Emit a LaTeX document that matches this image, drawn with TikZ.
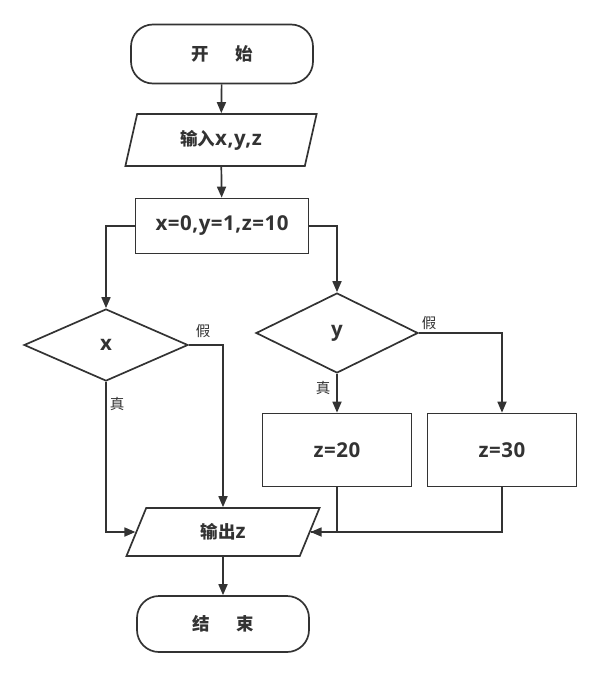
\documentclass[tikz,border=0pt]{standalone}
\usepackage{fontspec}
\setmainfont{Open Sans}[LetterSpace=2.5]
\newfontfamily\cjk{Noto Sans CJK SC}
\newcommand{\zh}[1]{{\fontsize{17.5}{20}\cjk\bfseries #1}}
\usetikzlibrary{shapes.geometric,shapes.misc,arrows.meta}
\definecolor{ln}{HTML}{333333}
\tikzset{
  base/.style={draw=ln, line width=1.7pt, text=ln, font=\fontsize{20.5}{22}\selectfont\bfseries, inner sep=0pt},
  term/.style={base, rectangle, rounded corners=22pt, minimum width=182pt, minimum height=59pt},
  io/.style={base, trapezium, trapezium left angle=74, trapezium right angle=106, trapezium stretches=true, minimum width=192pt, minimum height=52pt},
  proc/.style={base, rectangle, minimum width=173pt, minimum height=55pt},
  conn/.style={draw=ln, line width=1.7pt, -{Triangle[length=11pt,width=9pt]}},
  plain/.style={draw=ln, line width=1.7pt},
  lbl/.style={text=ln, font=\fontsize{14.5}{16}\selectfont\cjk, inner sep=0pt}
}
\begin{document}
\begin{tikzpicture}[x=1pt,y=-1pt]
\useasboundingbox (0,0) rectangle (602,677);
\node[term] (start) at (222,54) {\zh{开\hspace{1.5em}始}};
\node[io] (in) at (221,140) {\zh{输入}x,y,z};
\node[proc] (init) at (222,226) {x=0,y=1,z=10};
\node[base, diamond, minimum width=164pt, minimum height=72pt, shape aspect=2.28] (dx) at (106,345) {x};
\node[base, diamond, minimum width=162pt, minimum height=80pt, shape aspect=2.03] (dy) at (337,333) {y};
\node[proc, minimum width=149pt, minimum height=73pt] (z20) at (337,450) {z=20};
\node[proc, minimum width=149pt, minimum height=73pt] (z30) at (502,450) {z=30};
\node[io, minimum height=48pt, minimum width=194pt, trapezium left angle=71, trapezium right angle=109] (out) at (223,532) {\zh{输出}z};
\node[term, minimum width=172pt, minimum height=56pt] (end) at (223,624) {\zh{结\hspace{1.5em}束}};

\node[lbl] (fx) at (203,331) {假};
\node[lbl] (tx) at (117,404) {真};
\node[lbl] (fy) at (429,323) {假};
\node[lbl] (ty) at (323,388) {真};

\draw[conn] (start) -- (in);
\draw[conn] (in) -- (init);
\draw[conn] (init.west) -| (dx.north);
\draw[conn] (init.east) -| (dy.north);
\draw[conn] (dx.east) -| (out.north);
\draw[conn] (dx.south) |- (out.west);
\draw[conn] (dy.south) -- (z20.north);
\draw[conn] (dy.east) -| (z30.north);
\draw[plain] (z20.south) |- (out.east);
\draw[conn] (z30.south) |- (out.east);
\draw[conn] (out) -- (end);
\end{tikzpicture}
\end{document}
